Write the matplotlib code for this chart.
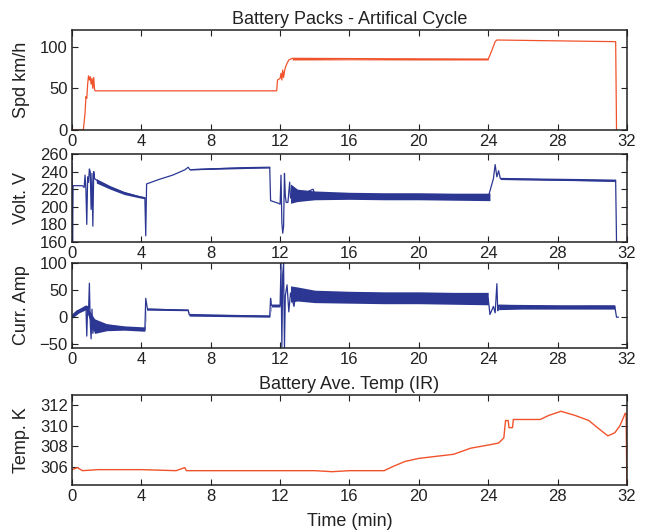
import numpy as np
import matplotlib
matplotlib.use("Agg")
import matplotlib.pyplot as plt

plt.rcParams['font.family'] = ['Liberation Sans', 'DejaVu Sans']

ORANGE = '#F0532B'
BLUE = '#2B3792'

time_ticks = [0, 4, 8, 12, 16, 20, 24, 28, 32]

# ---- Vehicle speed (km/h) ----
spd_t = [0, 0.65, 0.75, 0.8, 0.85, 0.9, 0.95, 1.0, 1.05, 1.1, 1.15, 1.2, 1.25, 1.3, 1.35,
         11.8, 11.85, 12.0, 12.05, 12.1, 12.15, 12.2, 12.25, 12.3, 12.4, 12.5, 12.7,
         24.0, 24.2, 24.4, 24.5, 31.35, 31.4]
spd_v = [0, 0, 20, 40, 38, 55, 65, 60, 64, 55, 62, 50, 63, 48, 47,
         47, 60, 62, 68, 60, 72, 63, 70, 75, 80, 84, 86,
         85, 95, 106, 108, 106, 0]
spd_band_t = [12.7, 16.0, 20.0, 24.0]
spd_band_lo = [84.0, 84.2, 84.0, 84.0]
spd_band_hi = [86.0, 85.5, 86.0, 86.0]

# ---- Pack voltage (V) ----
volt_t = [0, 0.03, 0.06, 0.6, 0.7, 0.75, 0.8, 0.85, 0.9, 0.95, 1.0, 1.05, 1.1, 1.15, 1.2,
          1.25, 1.3, 1.5, 2.2, 3.0, 3.8, 4.2, 4.25, 4.3, 5.0, 5.8, 6.5, 6.7, 6.8, 8.0,
          10.0, 11.4, 11.45, 11.9, 12.0, 12.05, 12.1, 12.15, 12.2, 12.25, 12.3, 12.35,
          12.45, 12.55, 12.6, 12.8, 13.0, 13.9, 14.0, 24.0, 24.3, 24.4, 24.5, 24.6, 24.7,
          31.35, 31.4]
volt_v = [250, 160, 224, 224, 222, 236, 220, 180, 234, 228, 243, 240, 197, 238, 178,
          240, 232, 229, 222, 216, 212, 210, 167, 226, 231, 236, 242, 245, 242, 243,
          244.5, 245, 207, 204, 203, 236, 182, 170, 178, 238, 212, 205,
          205, 228, 210, 218, 212, 220, 214, 211, 232, 248, 234, 241, 232,
          229, 160]
volt_band_t = [12.6, 13.0, 14.0, 16.0, 18.0, 20.0, 22.0, 24.1]
volt_band_lo = [204, 206, 208, 208.5, 208, 208, 207.5, 207]
volt_band_hi = [226, 220, 218, 216.5, 216, 216, 215.5, 215.5]
volt_band2_t = [24.7, 26.0, 28.0, 30.0, 31.35]
volt_band2_lo = [231, 230.5, 230, 229.5, 229]
volt_band2_hi = [233.5, 233, 232.5, 232, 231.5]
volt_band3_t = [6.8, 8.0, 10.0, 11.4]
volt_band3_lo = [242, 242.5, 243.5, 244]
volt_band3_hi = [243.5, 244.5, 245.5, 245.5]
volt_band4_t = [1.4, 2.2, 3.0, 3.8, 4.2]
volt_band4_lo = [227, 220, 214, 210.5, 209]
volt_band4_hi = [232, 224, 217.5, 213, 211.5]

# ---- Pack current (A) ----
curr_t = [0, 0.05, 0.3, 0.6, 0.8, 0.85, 0.9, 0.95, 1.0, 1.05, 1.1, 1.15, 1.2, 1.3, 1.5,
          2.5, 3.5, 4.2, 4.25, 4.35, 6.7, 6.75, 8.0, 11.4, 11.45, 11.5, 12.0, 12.05,
          12.1, 12.15, 12.2, 12.25, 12.3, 12.4, 12.5, 12.6, 12.8, 12.9, 13.0, 24.0,
          24.1, 24.3, 24.4, 24.5, 24.55, 24.6, 31.3, 31.4, 31.5]
curr_v = [0, 5, 12, 15, 20, -35, 20, 10, 63, -10, -40, 15, -30, -5, -12,
          -17, -21, -23, 35, 15, 13, 5, 4, 2, 35, 22, 22, 100,
          -55, 80, 100, -57, 40, 60, 10, 45, 20, 45, 40, 35,
          5, 20, 8, 62, 12, 22, 20, 0, 0]
curr_band_t = [0.0, 0.4, 0.8, 1.3, 2.0, 3.0, 4.2, 4.3, 6.7, 6.75, 11.4, 11.5, 12.0]
curr_band_lo = [-2, 8, 14, -30, -25, -24, -26, 13, 12, 2, 0, 19, 19]
curr_band_hi = [5, 16, 23, -3, -12, -16, -18, 17, 15, 6, 4, 24, 24]
curr_band2_t = [12.6, 13.0, 14.0, 16.0, 18.0, 20.0, 22.0, 24.0]
curr_band2_lo = [28, 30, 27, 26, 25, 25, 24, 23]
curr_band2_hi = [58, 56, 50, 48, 47, 47, 46, 46]
curr_band3_t = [24.6, 26.0, 28.0, 30.0, 31.3]
curr_band3_lo = [14, 15, 15, 15, 15]
curr_band3_hi = [24, 23, 22, 23, 23]

# ---- Battery average temperature, infrared (K) ----
temp_t = [0, 0.3, 0.6, 1.5, 2.5, 4.0, 6.0, 6.5, 6.6, 8.0, 10.0, 12.0, 14.0, 15.0, 16.0,
          17.0, 18.0, 18.5, 19.2, 20.0, 21.0, 22.0, 23.0, 24.0, 24.6, 24.9, 25.0,
          25.15, 25.2, 25.4, 25.45, 25.6, 26.5, 27.0, 27.5, 28.2, 29.0, 29.8, 30.3,
          30.9, 31.3, 31.6, 31.9, 31.95, 32.0]
temp_v = [305.7, 305.9, 305.6, 305.7, 305.7, 305.7, 305.6, 305.9, 305.6, 305.6, 305.6,
          305.6, 305.6, 305.5, 305.6, 305.6, 305.6, 306.0, 306.5, 306.8, 307.0, 307.2,
          307.8, 308.1, 308.3, 308.8, 310.5, 310.5, 309.8, 309.8, 310.6, 310.6, 310.6,
          310.6, 311.0, 311.4, 311.0, 310.5, 309.8, 309.0, 309.3, 310.0, 311.2, 311.2,
          304.2]


def style_axes(ax, ylim, yticks, ylabel):
    ax.set_xlim(0, 32)
    ax.set_ylim(*ylim)
    ax.set_xticks(time_ticks)
    ax.set_yticks(yticks)
    ax.tick_params(direction='in', top=True, right=True, length=4, width=0.8,
                   labelsize=12, pad=3, colors='#222222')
    ax.set_ylabel(ylabel, fontsize=13, color='#222222')
    ax.yaxis.set_label_coords(-0.076, 0.5)
    for s in ax.spines.values():
        s.set_linewidth(1.1)
        s.set_color('#222222')


fig = plt.figure(figsize=(6.49, 5.30), dpi=100)

ax1 = fig.add_axes([0.111, 0.7547, 0.855, 0.1887])
ax2 = fig.add_axes([0.111, 0.5434, 0.855, 0.1660])
ax3 = fig.add_axes([0.111, 0.3434, 0.855, 0.1600])
ax4 = fig.add_axes([0.111, 0.0849, 0.855, 0.1700])

# speed
ax1.fill_between(spd_band_t, spd_band_lo, spd_band_hi, color=ORANGE, lw=0)
ax1.plot(spd_t, spd_v, color=ORANGE, lw=0.9)
style_axes(ax1, (0, 120), [0, 50, 100], 'Spd km/h')
ax1.set_title('Battery Packs - Artifical Cycle', fontsize=13, pad=4, color='#222222')

# voltage
for bt, lo, hi in [(volt_band_t, volt_band_lo, volt_band_hi),
                   (volt_band2_t, volt_band2_lo, volt_band2_hi),
                   (volt_band3_t, volt_band3_lo, volt_band3_hi),
                   (volt_band4_t, volt_band4_lo, volt_band4_hi)]:
    ax2.fill_between(bt, lo, hi, color=BLUE, lw=0)
ax2.plot(volt_t, volt_v, color=BLUE, lw=0.9)
style_axes(ax2, (160, 260), [160, 180, 200, 220, 240, 260], 'Volt. V')

# current
for bt, lo, hi in [(curr_band_t, curr_band_lo, curr_band_hi),
                   (curr_band2_t, curr_band2_lo, curr_band2_hi),
                   (curr_band3_t, curr_band3_lo, curr_band3_hi)]:
    ax3.fill_between(bt, lo, hi, color=BLUE, lw=0)
ax3.plot(curr_t, curr_v, color=BLUE, lw=0.9)
style_axes(ax3, (-57, 100), [-50, 0, 50, 100], 'Curr. Amp')

# temperature
ax4.plot(temp_t, temp_v, color=ORANGE, lw=1.0)
style_axes(ax4, (304.2, 313), [306, 308, 310, 312], 'Temp. K')
ax4.set_title('Battery Ave. Temp (IR)', fontsize=13, pad=4, color='#222222')
ax4.set_xlabel('Time (min)', fontsize=13, color='#222222', labelpad=6)

fig.savefig('out.png', dpi=100)
